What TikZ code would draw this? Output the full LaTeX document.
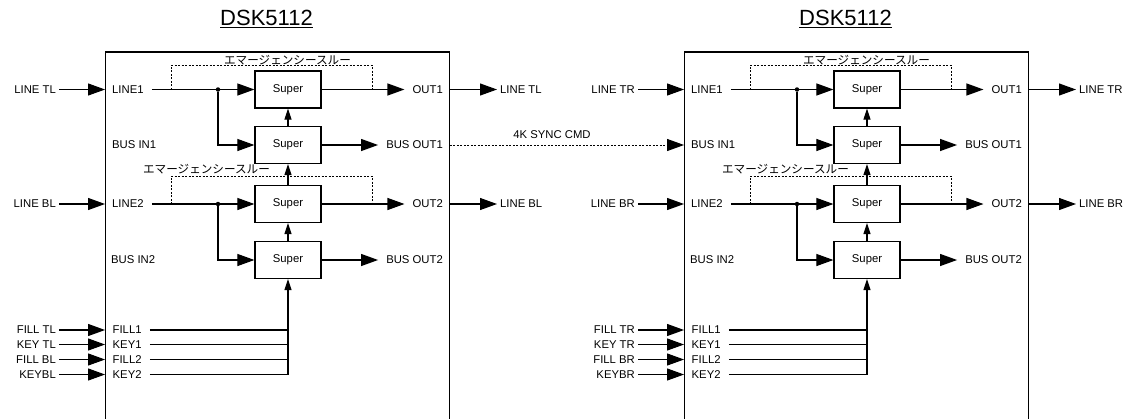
\documentclass[tikz,border=0pt]{standalone}
\usepackage{fontspec}
\setmainfont{Liberation Sans}
\newfontfamily\jpfont{Noto Sans CJK JP}
\usetikzlibrary{arrows.meta}

\begin{document}
\begin{tikzpicture}[
    x=1pt, y=-1pt,
    every node/.style={font=\fontsize{11.3}{13}\selectfont},
    title/.style={font=\fontsize{22}{26}\selectfont},
    unit/.style={draw, line width=1.3pt, minimum width=343.6pt,
        minimum height=388pt, inner sep=0pt},
    super/.style={draw, line width=1.2pt, minimum width=66pt,
        minimum height=37pt, inner sep=0pt},
    port/.style={inner xsep=8pt, inner ysep=1pt},
    ext/.style={inner xsep=3pt, inner ysep=1pt},
    note/.style={inner sep=0pt, font=\jpfont\fontsize{11.6}{13}\selectfont},
    dot/.style={circle, fill, minimum size=4.5pt, inner sep=0pt},
    flow/.style={line width=1.1pt, -{Triangle[length=17pt,width=12pt]}},
    feed/.style={line width=1.1pt, -{Triangle[length=11pt,width=7pt]}},
    wire/.style={line width=1.1pt},
    bypass/.style={line width=1pt, dash pattern=on 2pt off 1.5pt},
    synclink/.style={line width=1pt, dash pattern=on 2pt off 1.5pt,
        -{Triangle[length=17pt,width=12pt]}}
]
    \useasboundingbox (0,0) rectangle (1128,418);
    \clip (0,0) rectangle (1128,418);

    \node[title] (Ltitle) at (266.5,19) {\underline{DSK5112}};
    \node[unit] (Lunit) at (277.5,246) {};
    \node[super] (Ls1) at (288,89.5) {Super};
    \node[super] (Ls2) at (288,145) {Super};
    \node[super] (Ls3) at (288,204) {Super};
    \node[super] (Ls4) at (288,260) {Super};
    \node[port, anchor=west] (Lline1) at (104,89.5) {LINE1};
    \node[port, anchor=west] (Lbusin1) at (104,145) {BUS IN1};
    \node[port, anchor=west] (Lline2) at (104,204) {LINE2};
    \node[port, anchor=west] (Lbusin2) at (103,260) {BUS IN2};
    \node[port, anchor=west] (Lfill1) at (104.5,330) {FILL1};
    \node[port, anchor=west] (Lkey1) at (104.5,344.5) {KEY1};
    \node[port, anchor=west] (Lfill2) at (104.5,359.5) {FILL2};
    \node[port, anchor=west] (Lkey2) at (104.5,374.5) {KEY2};
    \node[port, anchor=east] (Lout1) at (451,89.5) {OUT1};
    \node[port, anchor=east] (Lbusout1) at (451,145) {BUS OUT1};
    \node[port, anchor=east] (Lout2) at (451,204) {OUT2};
    \node[port, anchor=east] (Lbusout2) at (451,260) {BUS OUT2};
    \node[ext, anchor=east] (Llinein1) at (59,89.5) {LINE TL};
    \node[ext, anchor=east] (Llinein2) at (59,204) {LINE BL};
    \node[ext, anchor=east] (Lfillin1) at (59,330) {FILL TL};
    \node[ext, anchor=east] (Lkeyin1) at (59,344.5) {KEY TL};
    \node[ext, anchor=east] (Lfillin2) at (59,359.5) {FILL BL};
    \node[ext, anchor=east] (Lkeyin2) at (59,374.5) {KEYBL};
    \node[ext, anchor=west] (Llineout1) at (497,89.5) {LINE TL};
    \node[ext, anchor=west] (Llineout2) at (497,204) {LINE BL};
    \node[dot] (Lj1) at (218,89.5) {};
    \node[dot] (Lj2) at (218,204) {};
    \coordinate (Lb1) at (171,89.5);
    \coordinate (Lc1) at (372,89.5);
    \coordinate (Lb2) at (171,204);
    \coordinate (Lc2) at (372,204);
    \node[note] (Lnote1) at (287.5,60) {エマージェンシースルー};
    \node[note] (Lnote2) at (206.5,169) {エマージェンシースルー};

    \node[title] (Rtitle) at (845.5,19) {\underline{DSK5112}};
    \node[unit] (Runit) at (856.5,246) {};
    \node[super] (Rs1) at (867,89.5) {Super};
    \node[super] (Rs2) at (867,145) {Super};
    \node[super] (Rs3) at (867,204) {Super};
    \node[super] (Rs4) at (867,260) {Super};
    \node[port, anchor=west] (Rline1) at (683,89.5) {LINE1};
    \node[port, anchor=west] (Rbusin1) at (683,145) {BUS IN1};
    \node[port, anchor=west] (Rline2) at (683,204) {LINE2};
    \node[port, anchor=west] (Rbusin2) at (682,260) {BUS IN2};
    \node[port, anchor=west] (Rfill1) at (683.5,330) {FILL1};
    \node[port, anchor=west] (Rkey1) at (683.5,344.5) {KEY1};
    \node[port, anchor=west] (Rfill2) at (683.5,359.5) {FILL2};
    \node[port, anchor=west] (Rkey2) at (683.5,374.5) {KEY2};
    \node[port, anchor=east] (Rout1) at (1030,89.5) {OUT1};
    \node[port, anchor=east] (Rbusout1) at (1030,145) {BUS OUT1};
    \node[port, anchor=east] (Rout2) at (1030,204) {OUT2};
    \node[port, anchor=east] (Rbusout2) at (1030,260) {BUS OUT2};
    \node[ext, anchor=east] (Rlinein1) at (638,89.5) {LINE TR};
    \node[ext, anchor=east] (Rlinein2) at (638,204) {LINE BR};
    \node[ext, anchor=east] (Rfillin1) at (638,330) {FILL TR};
    \node[ext, anchor=east] (Rkeyin1) at (638,344.5) {KEY TR};
    \node[ext, anchor=east] (Rfillin2) at (638,359.5) {FILL BR};
    \node[ext, anchor=east] (Rkeyin2) at (638,374.5) {KEYBR};
    \node[ext, anchor=west] (Rlineout1) at (1076,89.5) {LINE TR};
    \node[ext, anchor=west] (Rlineout2) at (1076,204) {LINE BR};
    \node[dot] (Rj1) at (797,89.5) {};
    \node[dot] (Rj2) at (797,204) {};
    \coordinate (Rb1) at (750,89.5);
    \coordinate (Rc1) at (951,89.5);
    \coordinate (Rb2) at (750,204);
    \coordinate (Rc2) at (951,204);
    \node[note] (Rnote1) at (866.5,60) {エマージェンシースルー};
    \node[note] (Rnote2) at (785.5,169) {エマージェンシースルー};

    \node (sync) at (552,135) {4K SYNC CMD};

    \draw[flow] (Llinein1) -- (Llinein1 -| Lunit.west);
    \draw[flow] (Llinein2) -- (Llinein2 -| Lunit.west);
    \draw[flow] (Lfillin1) -- (Lfillin1 -| Lunit.west);
    \draw[flow] (Lkeyin1) -- (Lkeyin1 -| Lunit.west);
    \draw[flow] (Lfillin2) -- (Lfillin2 -| Lunit.west);
    \draw[flow] (Lkeyin2) -- (Lkeyin2 -| Lunit.west);
    \draw[flow] (Lline1) -- (Ls1);
    \draw[flow] (Lj1) |- (Ls2);
    \draw[flow] (Lline2) -- (Ls3);
    \draw[flow] (Lj2) |- (Ls4);
    \draw[flow] (Ls1) -- (Lout1);
    \draw[flow] (Ls2) -- (Lbusout1);
    \draw[flow] (Ls3) -- (Lout2);
    \draw[flow] (Ls4) -- (Lbusout2);
    \draw[feed] (Ls2) -- (Ls1);
    \draw[feed] (Ls3) -- (Ls2);
    \draw[feed] (Ls4) -- (Ls3);
    \draw[wire] (Lfill1) -- (Lfill1 -| Ls4);
    \draw[wire] (Lkey1) -- (Lkey1 -| Ls4);
    \draw[wire] (Lfill2) -- (Lfill2 -| Ls4);
    \draw[feed] (Lkey2) -| (Ls4);
    \draw[bypass] (Lb1) -- ++(0,-24.5) -| (Lc1);
    \draw[bypass] (Lb2) -- ++(0,-28) -| (Lc2);
    \draw[flow] (Lout1 -| Lunit.east) -- (Llineout1);
    \draw[flow] (Lout2 -| Lunit.east) -- (Llineout2);

    \draw[flow] (Rlinein1) -- (Rlinein1 -| Runit.west);
    \draw[flow] (Rlinein2) -- (Rlinein2 -| Runit.west);
    \draw[flow] (Rfillin1) -- (Rfillin1 -| Runit.west);
    \draw[flow] (Rkeyin1) -- (Rkeyin1 -| Runit.west);
    \draw[flow] (Rfillin2) -- (Rfillin2 -| Runit.west);
    \draw[flow] (Rkeyin2) -- (Rkeyin2 -| Runit.west);
    \draw[flow] (Rline1) -- (Rs1);
    \draw[flow] (Rj1) |- (Rs2);
    \draw[flow] (Rline2) -- (Rs3);
    \draw[flow] (Rj2) |- (Rs4);
    \draw[flow] (Rs1) -- (Rout1);
    \draw[flow] (Rs2) -- (Rbusout1);
    \draw[flow] (Rs3) -- (Rout2);
    \draw[flow] (Rs4) -- (Rbusout2);
    \draw[feed] (Rs2) -- (Rs1);
    \draw[feed] (Rs3) -- (Rs2);
    \draw[feed] (Rs4) -- (Rs3);
    \draw[wire] (Rfill1) -- (Rfill1 -| Rs4);
    \draw[wire] (Rkey1) -- (Rkey1 -| Rs4);
    \draw[wire] (Rfill2) -- (Rfill2 -| Rs4);
    \draw[feed] (Rkey2) -| (Rs4);
    \draw[bypass] (Rb1) -- ++(0,-24.5) -| (Rc1);
    \draw[bypass] (Rb2) -- ++(0,-28) -| (Rc2);
    \draw[flow] (Rout1 -| Runit.east) -- (Rlineout1);
    \draw[flow] (Rout2 -| Runit.east) -- (Rlineout2);

    \draw[synclink] (Lbusout1 -| Lunit.east) -- (Rbusin1 -| Runit.west);
\end{tikzpicture}
\end{document}
